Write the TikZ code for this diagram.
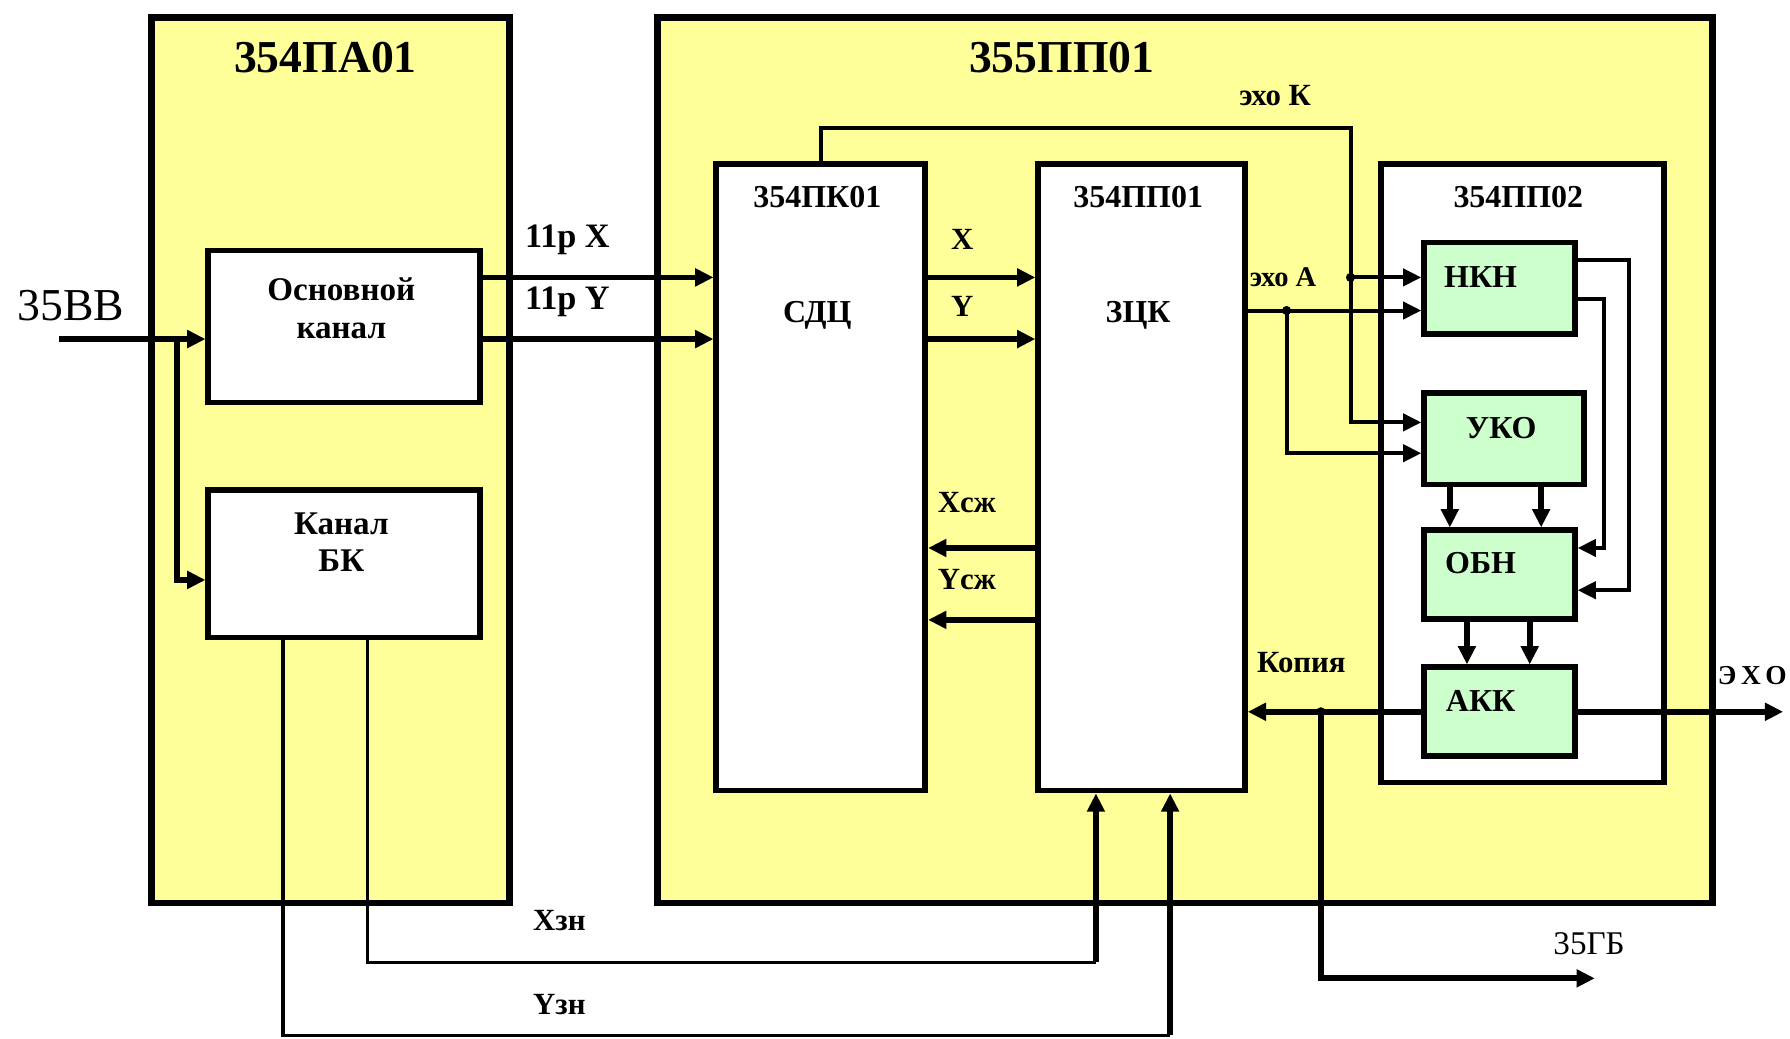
\documentclass[tikz,border=0pt]{standalone}
\usepackage{fontspec}
\setmainfont{Liberation Serif}
\usetikzlibrary{arrows.meta}
\definecolor{yel}{RGB}{255,255,153}
\definecolor{grn}{RGB}{204,255,204}
\begin{document}
\begin{tikzpicture}[x=1pt,y=-1pt,
  outerbox/.style={draw, line width=6pt, fill=yel, inner sep=0pt, anchor=north west},
  blk/.style={draw, line width=5pt, fill=white, inner sep=0pt, anchor=north west},
  gblk/.style={draw, line width=5pt, fill=grn, inner sep=0pt, anchor=north west},
  arr/.style={line width=5pt, -{Triangle[length=16pt,width=15pt]}},
  tarr/.style={line width=3.5pt, -{Triangle[length=16pt,width=15pt]}},
  wire/.style={line width=3pt},
  ttl/.style={font=\fontsize{40}{44}\selectfont\bfseries, inner sep=0pt},
  sub/.style={font=\fontsize{28}{30}\selectfont\bfseries, inner sep=0pt},
  lbl/.style={font=\fontsize{27}{29}\selectfont\bfseries, inner sep=0pt},
  sml/.style={font=\fontsize{27}{29}\selectfont\bfseries, inner sep=0pt},
  dot/.style={circle, fill=black, inner sep=0pt, minimum size=8pt}
]
\useasboundingbox (0,0) rectangle (1568,910);
\fill[white] (0,0) rectangle (1568,910);

% outer boxes
\node[outerbox, minimum width=313pt, minimum height=776pt] (pa) at (130,12) {};
\node[outerbox, minimum width=924pt, minimum height=776pt] (pp) at (573,12) {};
\node[ttl] (tpa) at (285,50) {354ПА01};
\node[ttl] (tpp) at (930,50) {355ПП01};

% left blocks
\node[blk, minimum width=238pt, minimum height=133pt] (osn) at (180,217) {};
\node[font=\fontsize{29}{31}\selectfont\bfseries, inner sep=0pt, align=center] (tosn) at (299,270) {Основной\\[2pt]канал};
\node[blk, minimum width=238pt, minimum height=129pt] (bk) at (180,427) {};
\node[font=\fontsize{29}{31}\selectfont\bfseries, inner sep=0pt, align=center] (tbk) at (299,475) {Канал\\[2pt]БК};

% middle blocks
\node[blk, minimum width=183pt, minimum height=549pt] (pk) at (625,141) {};
\node[sub] (tpk) at (716,173) {354ПК01};
\node[sub] (tsdc) at (716,276) {СДЦ};
\node[blk, minimum width=181pt, minimum height=549pt] (zck) at (907,141) {};
\node[sub] (tzck1) at (997,173) {354ПП01};
\node[sub] (tzck) at (997,276) {ЗЦК};

% right module
\node[blk, minimum width=248pt, minimum height=542pt] (pp2) at (1207,141) {};
\node[sub] (tpp2) at (1330,173) {354ПП02};
\node[gblk, minimum width=132pt, minimum height=80pt] (nkn) at (1245,210) {};
\node[sub] (tnkn) at (1297,243) {НКН};
\node[gblk, minimum width=140pt, minimum height=80pt] (uko) at (1245,342) {};
\node[sub] (tuko) at (1315,375) {УКО};
\node[gblk, minimum width=132pt, minimum height=78pt] (obn) at (1245,462) {};
\node[sub] (tobn) at (1297,493) {ОБН};
\node[gblk, minimum width=132pt, minimum height=78pt] (akk) at (1245,582) {};
\node[sub] (takk) at (1297,614) {АКК};

% input 35BB
\node[font=\fontsize{40}{44}\selectfont, inner sep=0pt] (in35) at (62,268) {35ВВ};
\coordinate (inS) at (52,297);
\coordinate (br) at (155,297);
\draw[arr] (inS) -- (osn.west |- inS);
\draw[arr] (br) -- (155,508) -- (bk.west |- 0,508);

% 11p X / 11p Y
\draw[arr] (osn.east |- 0,243) -- (pk.west |- 0,243);
\draw[arr] (osn.east |- 0,297) -- (pk.west |- 0,297);
\node[font=\fontsize{30}{32}\selectfont\bfseries, inner sep=0pt] (l11x) at (497,210) {11р X};
\node[font=\fontsize{30}{32}\selectfont\bfseries, inner sep=0pt] (l11y) at (497,264) {11р Y};

% X / Y
\draw[arr] (pk.east |- 0,243) -- (zck.west |- 0,243);
\draw[arr] (pk.east |- 0,297) -- (zck.west |- 0,297);
\node[lbl] (lx) at (843,210) {X};
\node[lbl] (ly) at (843,268) {Y};

% Xcж / Ycж
\draw[arr] (zck.west |- 0,480) -- (pk.east |- 0,480);
\draw[arr] (zck.west |- 0,543) -- (pk.east |- 0,543);
\node[lbl] (lxs) at (847,440) {Xсж};
\node[lbl] (lys) at (847,508) {Yсж};

% echo K
\coordinate (jk) at (1183,243);
\draw[line width=3.5pt] (pk.north) -- (pk.north |- 0,112) -- (1183,112) -- (jk);
\draw[tarr] (jk) -- (1183,370) -- (uko.west |- 0,370);
\draw[tarr] (jk) -- (nkn.west |- jk);
\node[dot] (djk) at (jk) {};
\node[sml] (lek) at (1117,84) {эхо К};

% echo A
\coordinate (ja) at (1127,272);
\draw[tarr] (zck.east |- ja) -- (nkn.west |- ja);
\draw[tarr] (ja) -- (1127,397) -- (uko.west |- 0,397);
\node[dot] (dja) at (ja) {};
\node[font=\fontsize{25}{27}\selectfont\bfseries, inner sep=0pt] (lea) at (1124,243) {эхо А};

% NKN -> OBN feedback
\draw[tarr] (nkn.east |- 0,228) -- (1427,228) -- (1427,517) -- (obn.east |- 0,517);
\draw[tarr] (nkn.east |- 0,262) -- (1405,262) -- (1405,480) -- (obn.east |- 0,480);

% UKO -> OBN, OBN -> AKK
\draw[arr] (uko.south -| 1270,0) -- (obn.north -| 1270,0);
\draw[arr] (uko.south -| 1350,0) -- (obn.north -| 1350,0);
\draw[arr] (obn.south -| 1285,0) -- (akk.north -| 1285,0);
\draw[arr] (obn.south -| 1340,0) -- (akk.north -| 1340,0);

% AKK outputs
\coordinate (outE) at (1562,621);
\draw[arr] (akk.east) -- (akk.east -| outE);
\node[font=\fontsize{24}{26}\selectfont\bfseries, inner sep=0pt] (lecho) at (1535,592) {Э\,Х\,О};
\coordinate (jc) at (akk.west -| 1157,0);
\draw[arr] (akk.west) -- (zck.east |- akk.west);
\coordinate (gb) at (1397,857);
\draw[arr] (jc) -- (jc |- gb) -- (gb);
\node[dot] (djc) at (jc) {};
\node[sml] (lkop) at (1140,580) {Копия};
\node[font=\fontsize{29}{31}\selectfont, inner sep=0pt] (l35gb) at (1392,827) {35ГБ};

% Xзн / Yзн
\coordinate (cx) at (960,843);
\coordinate (cy) at (1025,907);
\draw[wire] (bk.south -| 322,0) -- (322,843) -- (cx);
\draw[arr] (cx) -- (cx |- zck.south);
\draw[wire] (bk.south -| 248,0) -- (248,907) -- (cy);
\draw[arr] (cy) -- (cy |- zck.south);
\node[sml] (lxz) at (490,806) {Xзн};
\node[sml] (lyz) at (490,880) {Yзн};
\end{tikzpicture}
\end{document}
